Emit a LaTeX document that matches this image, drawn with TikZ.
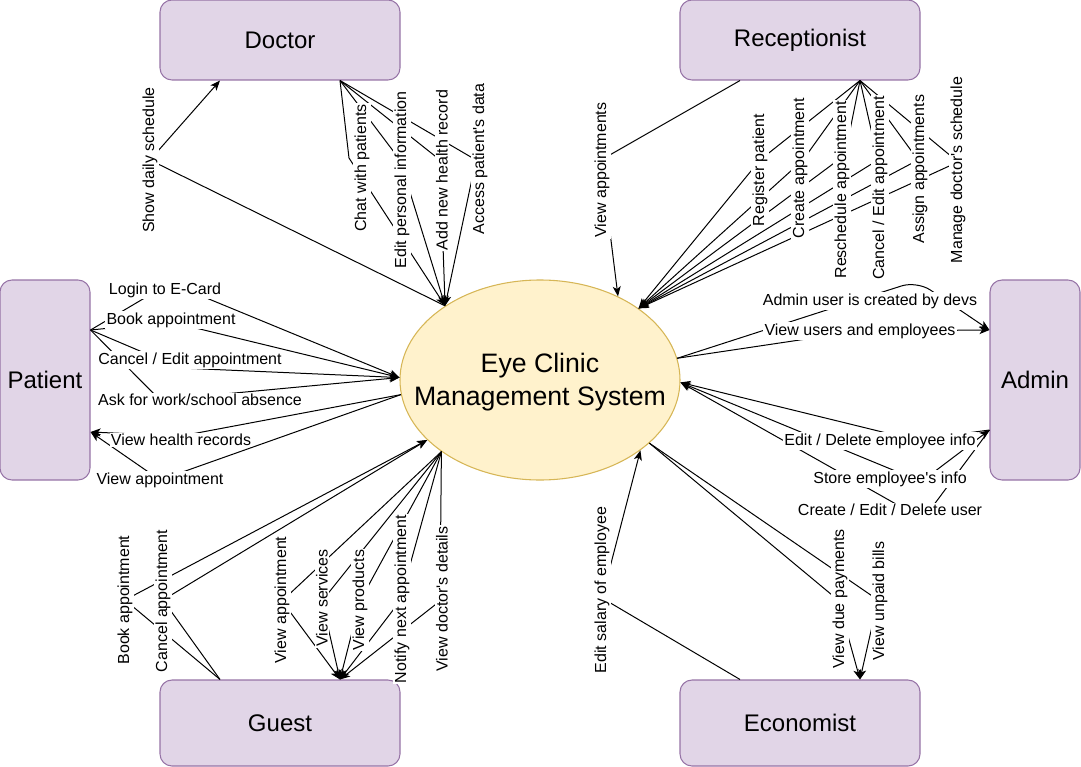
\documentclass[tikz,border=0pt]{standalone}
\usepackage{fontspec}
\setmainfont{Liberation Sans}[Ligatures=TeXOff]
\usetikzlibrary{arrows.meta,shapes.geometric,calc}
\definecolor{boxfill}{HTML}{E1D5E7}
\definecolor{boxline}{HTML}{9673A6}
\definecolor{sysfill}{HTML}{FFF2CC}
\definecolor{sysline}{HTML}{D6B656}
\begin{document}
\begin{tikzpicture}[x=0.75pt,y=-0.75pt,
  actor/.style={draw=boxline,fill=boxfill,rounded corners=9pt,line width=0.8pt,font=\fontsize{18}{22}\selectfont,inner sep=0pt},
  lbl/.style={fill=white,inner sep=1pt,font=\fontsize{12}{14}\selectfont},
  vlbl/.style={lbl,rotate=90},
  link/.style={line width=0.75pt},
  tipend/.style={link,-{Stealth[length=7.5pt,width=6pt,inset=2pt]}},
  tipboth/.style={link,{Stealth[length=7.5pt,width=6pt,inset=2pt]}-{Stealth[length=7.5pt,width=6pt,inset=2pt]}},
]
\useasboundingbox (0,0) rectangle (1081,767);
% nodes
\node[actor,minimum width=180pt,minimum height=60pt] (doc) at (280,40) {Doctor};
\node[actor,minimum width=180pt,minimum height=60pt] (rec) at (800,40) {Receptionist};
\node[actor,minimum width=67.5pt,minimum height=150pt] (pat) at (45,380) {Patient};
\node[actor,minimum width=67.5pt,minimum height=150pt] (adm) at (1035,380) {Admin};
\node[actor,minimum width=180pt,minimum height=64.5pt] (gst) at (280,723) {Guest};
\node[actor,minimum width=180pt,minimum height=64.5pt] (eco) at (800,723) {Economist};
\node[ellipse,draw=sysline,fill=sysfill,line width=0.8pt,minimum width=210pt,minimum height=150pt,inner sep=0pt] (sys) at (540,380) {};
\node[align=center,inner sep=0pt,font=\fontsize{20}{24.5}\selectfont] (systxt) at (540,382) {Eye Clinic\\Management System};
% connection points
\coordinate (docA) at ([xshift=-45pt]doc.south);
\coordinate (docB) at ([xshift=45pt]doc.south);
\coordinate (recA) at ([xshift=-45pt]rec.south);
\coordinate (recB) at ([xshift=45pt]rec.south);
\coordinate (patA) at ([yshift=37.5pt]pat.east);
\coordinate (patB) at ([yshift=-39pt]pat.east);
\coordinate (admA) at ([yshift=37.5pt]adm.west);
\coordinate (admB) at ([yshift=-37.5pt]adm.west);
\coordinate (gstA) at ([xshift=-45pt]gst.north);
\coordinate (gstB) at ([xshift=45pt]gst.north);
\coordinate (ecoA) at ([xshift=-45pt]eco.north);
\coordinate (ecoB) at ([xshift=45pt]eco.north);
% Doctor
\draw[tipend] (sys.142) -- (150,160) -- (docA);
\draw[tipend] (docB) -- (349,158) -- (sys.142);
\draw[tipend] (docB) -- (400,160) -- (sys.142);
\draw[tipend] (docB) -- (440,160) -- (sys.142);
\draw[tipend] (docB) -- (476,160) -- (sys.142);
% Receptionist
\draw[tipend] (recA) -- (601,160) -- (sys.47);
\draw[tipend] (recB) -- (760,160) -- (sys.36);
\draw[tipend] (recB) -- (803,160) -- (sys.36);
\draw[tipend] (recB) -- (845,155) -- (sys.36);
\draw[tipend] (recB) -- (878,160) -- (sys.36);
\draw[tipend] (recB) -- (918,160) -- (sys.36);
\draw[tipend] (recB) -- (958,162) -- (sys.36);
% Patient
\draw[tipend] (patA) -- (170,283) -- (sys.179);
\draw[tipend] (patA) -- (171,322) -- (sys.179);
\draw[tipend] (patA) -- (180,368) -- (sys.179);
\draw[tipend] (patA) -- (160,400) -- (sys.179);
\draw[tipend] (sys.186) -- (181,436) -- (patB);
\draw[tipend] (sys.186) -- (160,480) -- (patB);
% Admin
\draw[tipend,rounded corners=12pt] (sys.9) -- (870,296) -- (917,281) -- (admA);
\draw[tipend] (sys.9) -- (860,331) -- (admA);
\draw[tipend] (admB) -- (915,440) -- (sys.359);
\draw[tipboth] (admB) -- (930,475) -- (910,477) -- (sys.359);
\draw[tipend] (admB) -- (933,506) -- (903,508) -- (sys.359);
% Economist
\draw[tipend] (ecoA) -- (602,598) -- (sys.325);
\draw[tipend] (sys.330) -- (838,600) -- (ecoB);
\draw[tipend] (sys.330) -- (878,600) -- (ecoB);
% Guest
\draw[tipend] (gstA) -- (125,600) -- (sys.208);
\draw[tipend] (gstA) -- (163,600) -- (sys.208);
\draw[tipend] (sys.216) -- (282,601) -- (gstB);
\draw[tipend] (sys.216) -- (322,601) -- (gstB);
\draw[tipend] (sys.216) -- (360,601) -- (gstB);
\draw[tipend] (sys.216) -- (400,601) -- (gstB);
\draw[tipend] (sys.216) -- (440,601) -- (gstB);
% labels
\node[vlbl] (l1) at (150,160) {Show daily schedule};
\node[vlbl] (l2) at (362,168) {Chat with patients};
\node[vlbl] (l3) at (402,180) {Edit personal information};
\node[vlbl] (l4) at (442,170) {Add new health record};
\node[vlbl] (l5) at (480,159) {Access patient's data};
\node[vlbl] (l6) at (602,170) {View appointments};
\node[vlbl] (l7) at (760,170) {Register patient};
\node[vlbl] (l8) at (800,168) {Create appointment};
\node[vlbl] (l9) at (842,190) {Reschedule appointment};
\node[vlbl] (l10) at (880,188) {Cancel / Edit appointment};
\node[vlbl] (l11) at (920,169) {Assign appointments};
\node[vlbl] (l12) at (958,170) {Manage doctor's schedule};
\node[lbl] (l13) at (165,290) {Login to E-Card};
\node[lbl] (l14) at (171,320) {Book appointment};
\node[lbl] (l15) at (190,360) {Cancel / Edit appointment};
\node[lbl] (l16) at (200,400) {Ask for work/school absence};
\node[lbl] (l17) at (181,440) {View health records};
\node[lbl] (l18) at (160,480) {View appointment};
\node[lbl] (l19) at (870,301) {Admin user is created by devs};
\node[lbl] (l20) at (860,331) {View users and employees};
\node[lbl] (l21) at (880,441) {Edit / Delete employee info};
\node[lbl] (l22) at (890,479) {Store employee's info};
\node[lbl] (l23) at (890,510) {Create / Edit / Delete user};
\node[vlbl] (l24) at (602,590) {Edit salary of employee};
\node[vlbl] (l25) at (840,599) {View due payments};
\node[vlbl] (l26) at (880,601) {View unpaid bills};
\node[vlbl] (l27) at (125,600) {Book appointment};
\node[vlbl] (l28) at (163,601) {Cancel appointment};
\node[vlbl] (l29) at (282,600) {View appointment};
\node[vlbl] (l30) at (322,598) {View services};
\node[vlbl] (l31) at (360,600) {View products};
\node[vlbl] (l32) at (402,599) {Notify next appointment};
\node[vlbl] (l33) at (442,599) {View doctor's details};
\end{tikzpicture}
\end{document}
